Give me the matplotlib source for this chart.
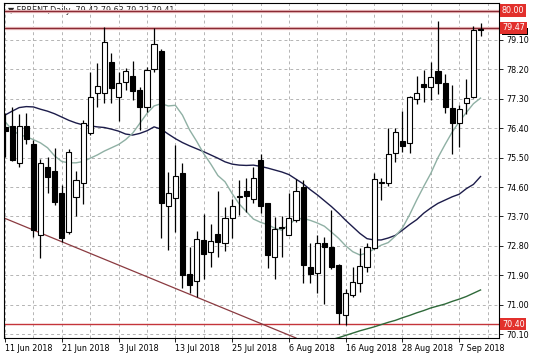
import matplotlib
matplotlib.use("Agg")
import matplotlib.pyplot as plt
import matplotlib.transforms as mtransforms
from matplotlib.patches import Rectangle
import numpy as np

# daily OHLC bars, 11 Jun 2018 .. 12 Sep 2018
opens = [76.45, 76.47, 75.34, 76.47, 75.92, 73.13, 75.20, 75.10, 74.41, 73.23,
         74.28, 74.71, 76.24, 77.47, 77.49, 78.42, 77.35, 77.82, 78.00, 77.57,
         77.06, 78.21, 78.77, 74.02, 74.25, 75.04, 71.93, 71.73, 72.98, 72.62,
         73.16, 72.88, 73.64, 74.30, 74.48, 74.22, 75.43, 74.10, 72.45, 73.34,
         73.13, 73.59, 74.61, 72.16, 71.96, 72.88, 72.75, 72.21, 70.68, 71.29,
         71.67, 72.16, 72.72, 74.72, 74.71, 75.63, 76.01, 75.96, 77.28, 77.75,
         77.67, 78.16, 77.79, 77.01, 76.55, 77.16, 77.35, 79.42]
highs = [76.86, 77.06, 76.83, 76.86, 76.04, 75.45, 75.53, 75.78, 74.66, 75.75,
         75.10, 76.65, 78.13, 78.39, 79.51, 78.69, 78.13, 78.23, 78.47, 77.65,
         78.28, 79.46, 78.82, 75.07, 75.89, 75.34, 72.77, 73.26, 73.77, 73.47,
         74.49, 73.98, 74.22, 74.81, 74.87, 75.22, 75.61, 74.12, 73.69, 73.71,
         74.43, 74.83, 74.81, 72.88, 73.13, 73.06, 73.90, 72.25, 71.47, 72.16,
         72.72, 72.88, 75.02, 74.87, 76.40, 76.40, 76.94, 77.37, 78.00, 78.18,
         78.41, 79.69, 78.06, 77.72, 77.11, 77.90, 79.53, 79.63]
lows = [75.53, 75.40, 75.22, 75.92, 73.08, 72.42, 74.41, 74.05, 72.93, 73.15,
        73.71, 74.08, 76.20, 77.06, 77.16, 77.16, 76.63, 77.57, 77.26, 76.34,
        76.91, 78.13, 73.03, 72.67, 73.23, 71.50, 71.35, 71.22, 71.80, 72.16,
        72.47, 72.65, 73.03, 73.74, 73.85, 74.10, 73.81, 72.11, 71.80, 72.47,
        73.13, 73.54, 71.67, 71.67, 71.37, 71.02, 72.10, 70.40, 70.38, 71.24,
        71.40, 72.01, 72.70, 74.20, 74.63, 75.37, 75.68, 75.63, 77.14, 77.21,
        77.26, 77.45, 76.87, 75.61, 75.83, 76.83, 77.33, 79.22]
closes = [76.30, 75.43, 76.47, 76.06, 73.28, 75.32, 74.92, 74.15, 73.03, 75.68,
          74.81, 76.55, 77.35, 77.69, 79.03, 77.62, 77.77, 78.15, 77.55, 77.06,
          78.18, 78.97, 74.10, 74.41, 74.94, 71.91, 71.60, 73.00, 72.55, 72.96,
          72.93, 73.64, 74.02, 74.34, 74.32, 74.87, 74.02, 72.52, 73.30, 73.37,
          73.64, 74.48, 72.21, 71.94, 72.88, 72.75, 72.16, 70.73, 71.35, 71.70,
          72.18, 72.77, 74.83, 74.75, 75.61, 76.27, 75.85, 77.34, 77.49, 77.65,
          77.98, 77.77, 77.04, 76.57, 76.98, 77.31, 79.41, 79.41]

# moving averages
ma_slow = [76.80, 76.92, 77.03, 77.06, 77.05, 76.98, 76.92, 76.84, 76.74, 76.64,
           76.56, 76.50, 76.47, 76.44, 76.42, 76.37, 76.31, 76.22, 76.19, 76.24,
           76.32, 76.44, 76.37, 76.22, 76.08, 75.96, 75.86, 75.77, 75.68, 75.58,
           75.48, 75.37, 75.30, 75.27, 75.26, 75.27, 75.23, 75.18, 75.12, 75.06,
           74.98, 74.84, 74.70, 74.52, 74.36, 74.18, 74.00, 73.80, 73.58, 73.38,
           73.18, 73.02, 72.98, 72.98, 73.04, 73.12, 73.28, 73.45, 73.60, 73.80,
           73.96, 74.10, 74.20, 74.30, 74.38, 74.55, 74.68, 74.92]
ma_fast = [76.60, 76.35, 76.20, 76.14, 76.05, 75.95, 75.80, 75.55, 75.38, 75.34,
           75.34, 75.38, 75.48, 75.58, 75.70, 75.80, 75.90, 76.05, 76.25, 76.55,
           76.85, 77.08, 77.15, 77.08, 77.10, 76.80, 76.35, 76.00, 75.62, 75.30,
           74.95, 74.76, 74.40, 74.08, 73.85, 73.62, 73.52, 73.45, 73.34, 73.28,
           73.45, 73.62, 73.64, 73.58, 73.50, 73.40, 73.22, 73.03, 72.80, 72.62,
           72.52, 72.58, 72.70, 72.82, 72.90, 73.10, 73.35, 73.75, 74.20, 74.62,
           75.02, 75.50, 75.90, 76.28, 76.60, 76.88, 77.15, 77.32]
ma_long_start = 45
ma_long = [69.87, 69.93, 69.99, 70.06, 70.13, 70.20, 70.26, 70.32, 70.39, 70.46,
           70.52, 70.60, 70.67, 70.75, 70.82, 70.90, 70.96, 71.02, 71.10, 71.17,
           71.25, 71.35, 71.45]

trend_x = [0, 41]
trend_y = [73.64, 69.98]
levels = [80.00, 79.47, 70.40]

date_pos = [0, 8, 16, 24, 32, 40, 48, 56, 64]
date_labels = ["11 Jun 2018", "21 Jun 2018", "3 Jul 2018", "13 Jul 2018", "25 Jul 2018",
               "6 Aug 2018", "16 Aug 2018", "28 Aug 2018", "7 Sep 2018"]
price_ticks = [70.10, 71.00, 71.90, 72.80, 73.70, 74.60, 75.50, 76.40, 77.30, 78.20, 79.10]

fig = plt.figure(figsize=(5.36, 3.58), dpi=100)
ax = fig.add_axes([4 / 536, 1 - 338 / 358, 495 / 536, 335 / 358])

x = np.arange(len(opens))
o = np.array(opens); h = np.array(highs); l = np.array(lows); c = np.array(closes)

# grid
for gx in range(0, 72, 4):
    ax.axvline(gx, color="#b4b4b4", lw=0.7, ls=(0, (3, 3)), zorder=0)
for gy in price_ticks:
    ax.axhline(gy, color="#b4b4b4", lw=0.7, ls=(0, (3, 3)), zorder=0)

# horizontal levels and trendline
ax.axhline(levels[0], color="#f2c8c8", lw=2.4, zorder=1)
ax.axhline(levels[0], color="#8a2a34", lw=1.0, zorder=1)
ax.axhline(levels[1], color="#f2c8c8", lw=2.4, zorder=1)
ax.axhline(levels[1], color="#8a2a34", lw=1.0, zorder=1)
ax.axhline(levels[2], color="#c4343a", lw=1.0, zorder=1)
ax.plot(trend_x, trend_y, color="#8a3a40", lw=0.9, zorder=1)

# moving averages
ax.plot(x, ma_slow, color="#1c1c4a", lw=1.0, zorder=2)
ax.plot(x, ma_fast, color="#8fb0a4", lw=1.0, zorder=2)
ax.plot(np.arange(ma_long_start, ma_long_start + len(ma_long)), ma_long,
        color="#2f6a3a", lw=1.0, zorder=2)

# candles
ax.vlines(x, l, h, color="black", lw=0.9, zorder=3)
up = c >= o
body_h = np.maximum(np.abs(c - o), 0.004)
ax.bar(x[up], body_h[up], bottom=np.minimum(o, c)[up], width=0.72,
       facecolor="white", edgecolor="black", linewidth=0.8, zorder=4)
ax.bar(x[~up], body_h[~up], bottom=np.minimum(o, c)[~up], width=0.72,
       facecolor="black", edgecolor="black", linewidth=0.8, zorder=4)

ax.set_xlim(-0.14, 69.6)
ax.set_ylim(69.98, 80.23)

ax.yaxis.tick_right()
ax.set_yticks(price_ticks)
ax.set_yticklabels([f"{v:.2f}" for v in price_ticks])
ax.set_xticks(date_pos)
ax.set_xticklabels(date_labels, ha="left")
ax.tick_params(axis="both", labelsize=5.8, length=3, width=0.6, pad=2, colors="black")
ax.tick_params(axis="x", pad=1.5)
for sp in ax.spines.values():
    sp.set_color("black")
    sp.set_linewidth(0.8)

# price boxes on the right (current-price box mostly hidden under 79.47)
tr = mtransforms.blended_transform_factory(ax.transAxes, ax.transData)
ax.add_patch(Rectangle((1.006, 79.26), 0.052, 0.20, transform=tr, facecolor="black",
                       edgecolor="none", clip_on=False, zorder=5))
for lv in levels:
    ax.text(1.006, lv, f"{lv:.2f}", transform=tr, fontsize=5.8, color="white",
            va="center", ha="left", clip_on=False, zorder=6,
            bbox=dict(facecolor="#e2302c", edgecolor="none", pad=1.2))

# title
ax.text(0.008, 80.01, "\u25bc FBRENT,Daily  79.42 79.63 79.22 79.41", transform=tr,
        fontsize=5.8, color="#222222", va="center", ha="left", zorder=0.5)

fig.savefig("out.png", dpi=100)
